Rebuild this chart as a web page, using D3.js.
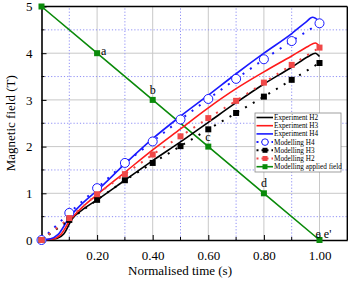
<!DOCTYPE html>
<html><head><meta charset="utf-8">
<script src="https://cdn.jsdelivr.net/npm/d3@7"></script>
<style>body{margin:0;background:#fff}svg{display:block}svg text{font-family:'Liberation Serif','DejaVu Serif',Times,serif !important}</style>
</head><body><svg id="c" width="350" height="286"></svg>
<script>
// ---- data ----
const modelTime = [0,0.1,0.2,0.3,0.4,0.5,0.6,0.7,0.8,0.9,1.0];
const modelH4 = [0,0.58,1.11,1.65,2.11,2.58,3.02,3.45,3.87,4.26,4.64];
const modelH3 = [0,0.43,0.86,1.28,1.65,2.01,2.37,2.72,3.07,3.43,3.79];
const modelH2 = [0,0.47,0.98,1.41,1.83,2.22,2.61,2.98,3.37,3.75,4.12];
const expTime = [0,0.03,0.06,0.1,0.15,0.2,0.3,0.4,0.5,0.6,0.7,0.8,0.9,0.95,0.975,1.0];
const expH4 = [0,0.02,0.12,0.48,0.8,1.06,1.63,2.17,2.65,3.1,3.56,4.0,4.42,4.66,4.77,4.68];
const expTimeH3 = [0,0.04,0.07,0.1,0.15,0.2,0.3,0.4,0.5,0.6,0.7,0.8,0.9,0.96,0.985,1.0];
const expH3 = [0,0.02,0.12,0.4,0.72,0.97,1.45,1.93,2.38,2.83,3.24,3.6,3.94,4.15,4.22,4.15];
const expTimeH2 = [0,0.045,0.08,0.11,0.15,0.2,0.3,0.4,0.5,0.6,0.7,0.8,0.9,0.96,0.985,1.0];
const expH2 = [0,0.02,0.13,0.45,0.66,0.86,1.28,1.7,2.1,2.52,2.94,3.34,3.7,3.93,4.0,3.93];
const appliedTime = [0,0.2,0.4,0.6,0.8,1.0];
const appliedField = [5,4,3,2,1,0];
const pointLabels = ["","a","b","c","d","e e'"];
const xTickVals = [0.2,0.4,0.6,0.8,1.0];
const yTickVals = [0,1,2,3,4,5];
const legendLabels = ["Experiment H2","Experiment H3","Experiment H4","Modelling H4","Modelling H3","Modelling H2","Modelling applied field"];

// ---- chart ----
const FONT = "'Liberation Serif','DejaVu Serif',Times,serif";
const svg = d3.select("#c");
const x = d3.scaleLinear().domain([0,1.1]).range([41.5,347.3]);
const y = d3.scaleLinear().domain([0,5]).range([240,6.5]);
const BLACK="#000", RED="#ff1a1a", REDM="#f04848", BLUE="#1a1aff", GREEN="#0a8a0a";

// grid
const minorX = [0.1,0.3,0.5,0.7,0.9];
const minorY = [0.5,1.5,2.5,3.5,4.5];
const g = svg.append("g");
g.selectAll(".gx").data(xTickVals).join("line").attr("x1",d=>x(d)).attr("x2",d=>x(d)).attr("y1",y(0)).attr("y2",y(5)).attr("stroke","#c8c8c8").attr("stroke-width",1);
g.selectAll(".gy").data([1,2,3,4]).join("line").attr("y1",d=>y(d)).attr("y2",d=>y(d)).attr("x1",x(0)).attr("x2",x(1.1)).attr("stroke","#c8c8c8").attr("stroke-width",1);
g.selectAll(".mx").data(minorX).join("line").attr("x1",d=>x(d)).attr("x2",d=>x(d)).attr("y1",y(0)).attr("y2",y(5)).attr("stroke","#8f8ff5").attr("stroke-width",1).attr("stroke-dasharray","1.2,2");
g.selectAll(".my").data(minorY).join("line").attr("y1",d=>y(d)).attr("y2",d=>y(d)).attr("x1",x(0)).attr("x2",x(1.1)).attr("stroke","#8f8ff5").attr("stroke-width",1).attr("stroke-dasharray","1.2,2");

// axes
const xAxis = d3.axisBottom(x).tickValues(xTickVals).tickFormat(d3.format(".2f")).tickSizeInner(-5).tickSizeOuter(0).tickPadding(11);
const yAxis = d3.axisLeft(y).tickValues(yTickVals).tickFormat(d3.format("d")).tickSizeInner(-5).tickSizeOuter(0).tickPadding(9);
const xa = svg.append("g").attr("transform",`translate(0,${y(0)})`).call(xAxis);
const ya = svg.append("g").attr("transform",`translate(${x(0)},0)`).call(yAxis);
[xa,ya].forEach(a=>{a.attr("font-family",FONT);a.selectAll("text").attr("font-size",13).attr("fill","#000").attr("font-family",FONT);a.select(".domain").attr("stroke-width",1.6);});
// minor ticks
svg.selectAll(".mtx").data(minorX).join("line").attr("x1",d=>x(d)).attr("x2",d=>x(d)).attr("y1",y(0)).attr("y2",y(0)-3).attr("stroke","#000");
svg.selectAll(".mty").data(minorY).join("line").attr("y1",d=>y(d)).attr("y2",d=>y(d)).attr("x1",x(0)).attr("x2",x(0)+3).attr("stroke","#000");
// top & right frame
svg.append("line").attr("x1",x(0)).attr("x2",x(1.1)).attr("y1",y(5)).attr("y2",y(5)).attr("stroke","#000").attr("stroke-width",1.4);
svg.append("line").attr("x1",x(1.1)).attr("x2",x(1.1)).attr("y1",y(0)).attr("y2",y(5)).attr("stroke","#000").attr("stroke-width",1.4);

// titles
svg.append("text").attr("x",180).attr("y",275).attr("text-anchor","middle").attr("font-size",13).attr("font-family",FONT).text("Normalised time (s)");
svg.append("text").attr("transform",`translate(15,${y(2.5)}) rotate(-90)`).attr("text-anchor","middle").attr("font-size",13).attr("font-family",FONT).text("Magnetic field (T)");

// applied field
const zip = (a,b)=>a.map((v,i)=>[v,b[i]]);
const line = d3.line().x(d=>x(d[0])).y(d=>y(d[1]));
const smooth = d3.line().x(d=>x(d[0])).y(d=>y(d[1])).curve(d3.curveMonotoneX);
svg.append("path").attr("d",line(zip(appliedTime,appliedField))).attr("fill","none").attr("stroke",GREEN).attr("stroke-width",1.6);

// experiment lines
[[expTimeH2,expH2,BLACK],[expTimeH3,expH3,RED],[expTime,expH4,BLUE]].forEach(([t,v,c])=>{
  svg.append("path").attr("d",smooth(zip(t,v))).attr("fill","none").attr("stroke",c).attr("stroke-width",1.6);
});

// modelling dotted lines + markers
[[modelH4,BLUE],[modelH3,BLACK],[modelH2,REDM]].forEach(([v,c])=>{
  svg.append("path").attr("d",line(zip(modelTime,v))).attr("fill","none").attr("stroke",c).attr("stroke-width",2).attr("stroke-dasharray","2,7");
});
svg.selectAll(".c4").data(zip(modelTime,modelH4)).join("circle").attr("cx",d=>x(d[0])).attr("cy",d=>y(d[1])).attr("r",4.5).attr("fill","#fff").attr("stroke",BLUE).attr("stroke-width",1);
svg.selectAll(".s3").data(zip(modelTime,modelH3)).join("rect").attr("x",d=>x(d[0])-3).attr("y",d=>y(d[1])-3).attr("width",6).attr("height",6).attr("fill",BLACK);
svg.selectAll(".s2").data(zip(modelTime,modelH2)).join("rect").attr("x",d=>x(d[0])-3).attr("y",d=>y(d[1])-3).attr("width",6).attr("height",6).attr("fill",REDM);

// applied markers & labels
const ap = zip(appliedTime,appliedField);
svg.selectAll(".ga").data(ap).join("rect").attr("x",d=>x(d[0])-3).attr("y",d=>y(d[1])-3).attr("width",6).attr("height",6).attr("fill",GREEN);
svg.selectAll(".gl").data(ap).join("text").attr("font-size",12).attr("font-family",FONT)
  .attr("x",(d,i)=>i===1?x(d[0])+4:(i===5?x(d[0])-4:x(d[0])-3))
  .attr("y",(d,i)=>i===1?y(d[1])+2:(i===5?y(d[1])-2:y(d[1])-6))
  .text((d,i)=>pointLabels[i]);

// legend
const lg = svg.append("g");
const lx=255, ly=113, rowH=8.2;
lg.append("rect").attr("x",lx).attr("y",ly).attr("width",86).attr("height",59).attr("fill","#fff").attr("stroke","#888").attr("stroke-width",0.8);
const lstyles = [[BLACK,"solid",null],[RED,"solid",null],[BLUE,"solid",null],[BLUE,"dot","circle"],[BLACK,"dot","square"],[REDM,"dot","square"],[GREEN,"solid","square"]];
legendLabels.forEach((lab,i)=>{
  const cy = ly+4.5+i*rowH;
  const [c,st,mk]=lstyles[i];
  lg.append("line").attr("x1",lx+1.5).attr("x2",lx+18).attr("y1",cy).attr("y2",cy).attr("stroke",c).attr("stroke-width",st==="dot"?2:1.6).attr("stroke-dasharray",st==="dot"?"2,3":null);
  if(mk==="circle") lg.append("circle").attr("cx",lx+10).attr("cy",cy).attr("r",3.3).attr("fill","#fff").attr("stroke",c);
  if(mk==="square") lg.append("rect").attr("x",lx+7.5).attr("y",cy-2.5).attr("width",5).attr("height",5).attr("fill",c);
  lg.append("text").attr("x",lx+19).attr("y",cy+2.5).attr("font-size",7.2).attr("font-family",FONT).text(lab);
});
</script></body></html>
